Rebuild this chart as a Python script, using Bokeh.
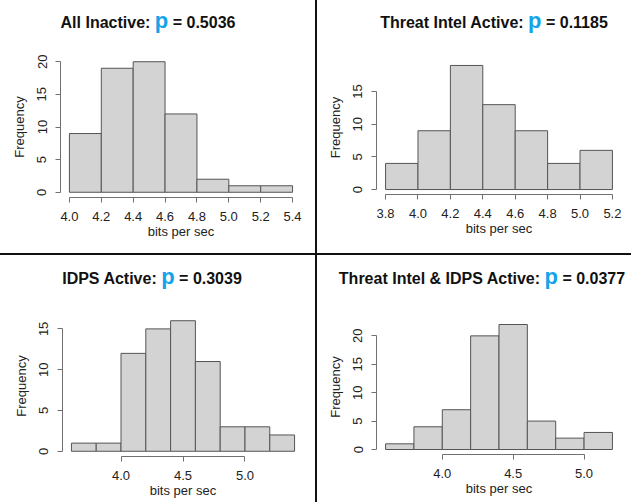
from bokeh.plotting import figure
from bokeh.layouts import row, column
from bokeh.models import Range1d, FixedTicker, NumeralTickFormatter, Div
from bokeh.embed import file_html
from bokeh.resources import INLINE

# ---------------- data ----------------
titles = ["All Inactive:", "Threat Intel Active:", "IDPS Active:", "Threat Intel & IDPS Active:"]
p_values = ["0.5036", "0.1185", "0.3039", "0.0377"]

edges1 = [4.0, 4.2, 4.4, 4.6, 4.8, 5.0, 5.2, 5.4]
counts1 = [9, 19, 20, 12, 2, 1, 1]
xticks1 = [4.0, 4.2, 4.4, 4.6, 4.8, 5.0, 5.2, 5.4]
yticks1 = [0, 5, 10, 15, 20]

edges2 = [3.8, 4.0, 4.2, 4.4, 4.6, 4.8, 5.0, 5.2]
counts2 = [4, 9, 19, 13, 9, 4, 6]
xticks2 = [3.8, 4.0, 4.2, 4.4, 4.6, 4.8, 5.0, 5.2]
yticks2 = [0, 5, 10, 15]

edges3 = [3.6, 3.8, 4.0, 4.2, 4.4, 4.6, 4.8, 5.0, 5.2, 5.4]
counts3 = [1, 1, 12, 15, 16, 11, 3, 3, 2]
xticks3 = [4.0, 4.5, 5.0]
yticks3 = [0, 5, 10, 15]

edges4 = [3.6, 3.8, 4.0, 4.2, 4.4, 4.6, 4.8, 5.0, 5.2]
counts4 = [1, 4, 7, 20, 22, 5, 2, 3]
xticks4 = [4.0, 4.5, 5.0]
yticks4 = [0, 5, 10, 15, 20]

x_label = "bits per sec"
y_label = "Frequency"

# ---------------- layout / style ----------------
FONT = "Liberation Sans"
BLUE = "#13A4EA"
TOP_BORDER = 6

# (cell_w, cell_h, left, right, top, bottom, title_cx, title_cy)
geoms = [
    (305, 243, 60, 4, 46, 56, 143, 16),
    (308, 243, 59, 4, 50, 59, 172, 16),
    (305, 241, 62, 2, 50, 50, 147, 17),
    (308, 241, 59, 4, 54, 52, 160, 17),
]

datasets = [
    (edges1, counts1, xticks1, yticks1),
    (edges2, counts2, xticks2, yticks2),
    (edges3, counts3, xticks3, yticks3),
    (edges4, counts4, xticks4, yticks4),
]


def make_panel(i):
    edges, counts, xticks, yticks = datasets[i]
    W, H, left, right, top, bottom, cx, cy = geoms[i]
    divh = top - TOP_BORDER

    title_html = (
        f'<div style="position:relative; left:{cx - W / 2}px; top:{cy - 11}px; width:{W}px; '
        f"text-align:center; font-family:'{FONT}', Arial, sans-serif; font-weight:bold; "
        f'font-size:16px; line-height:22px; color:#111; white-space:nowrap;">'
        f'{titles[i].replace("&", "&amp;")} <span style="color:{BLUE}; font-size:22px;">p</span> = {p_values[i]}</div>'
    )
    div = Div(text=title_html, width=W, height=divh, styles={"background-color": "white"})

    xspan = edges[-1] - edges[0]
    ymax = max(counts)
    p = figure(
        width=W, height=H - divh,
        x_range=Range1d(edges[0] - 0.04 * xspan, edges[-1] + 0.04 * xspan),
        y_range=Range1d(-0.04 * ymax, 1.04 * ymax),
        output_backend="svg", toolbar_location=None,
        min_border_left=left, min_border_right=right,
        min_border_top=TOP_BORDER, min_border_bottom=bottom,
        background_fill_color="white", border_fill_color="white",
        outline_line_color=None,
    )
    p.quad(left=edges[:-1], right=edges[1:], bottom=0, top=counts,
           fill_color="#D3D3D3", line_color="#555555", line_width=1)

    p.xgrid.visible = False
    p.ygrid.visible = False

    p.xaxis.ticker = FixedTicker(ticks=xticks)
    p.xaxis.bounds = (xticks[0], xticks[-1])
    p.xaxis.formatter = NumeralTickFormatter(format="0.0")
    p.yaxis.ticker = FixedTicker(ticks=yticks)
    p.yaxis.bounds = (yticks[0], yticks[-1])
    p.yaxis.major_label_orientation = "vertical"

    p.xaxis.axis_label = x_label
    p.yaxis.axis_label = y_label

    for ax in (p.xaxis[0], p.yaxis[0]):
        ax.axis_line_color = "#707070"
        ax.major_tick_line_color = "#707070"
        ax.minor_tick_line_color = None
        ax.major_tick_in = 0
        ax.major_tick_out = 5
        ax.major_label_text_font = FONT
        ax.major_label_text_font_size = "13px"
        ax.major_label_text_color = "#222222"
        ax.major_label_standoff = 9
        ax.axis_label_text_font = FONT
        ax.axis_label_text_font_size = "13px"
        ax.axis_label_text_font_style = "normal"
        ax.axis_label_text_color = "#222222"
    p.xaxis.axis_label_standoff = 0
    p.yaxis.axis_label_standoff = 8

    return column(div, p, spacing=0, styles={"background-color": "white"})


cells = [make_panel(i) for i in range(4)]
top_row = row(cells[0], cells[1], spacing=2)
bottom_row = row(cells[2], cells[3], spacing=2)
layout = column(top_row, bottom_row, spacing=2, styles={"background-color": "#111111"})

open("out.html", "w").write(file_html(layout, INLINE))
